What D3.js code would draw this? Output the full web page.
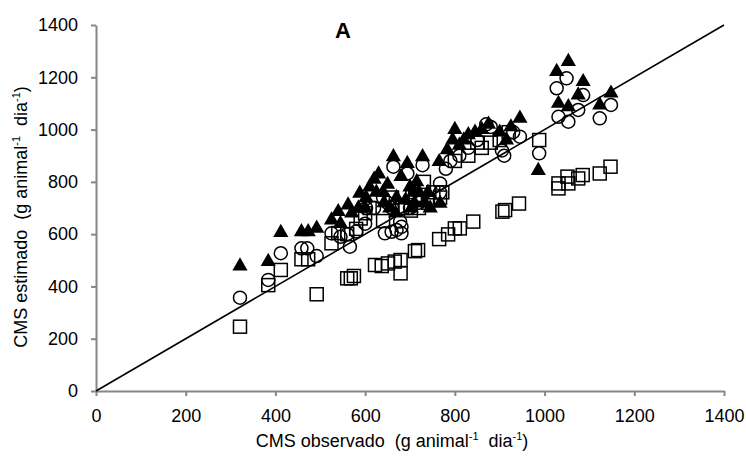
<!DOCTYPE html>
<html>
<head>
<meta charset="utf-8">
<script src="https://cdn.jsdelivr.net/npm/d3@7"></script>
<style>
  body { margin: 0; background: #fff; }
  text { font-family: "Liberation Sans", Arial, sans-serif; white-space: pre; }
</style>
</head>
<body>
<svg id="chart" width="746" height="457"></svg>
<script>
var triX = [321,384,412,458,473,492,525,540,562,588,545,570,600,610,620,630,640,650,663,670,680,694,700,710,715,728,740,765,767,783,795,800,810,820,830,845,860,875,900,915,925,945,986,1027,1031,1053,1053,1075,1086,1123,1148,
            585,602,625,642,655,668,690,703,720,733,745,708];
var triY = [478,495,606,609,609,622,654,686,711,756,640,680,700,780,810,830,760,790,896,740,820,870,780,720,800,896,760,877,718,922,960,1000,940,960,980,990,1000,1020,990,960,1010,1043,843,1222,1100,1260,1087,1132,1183,1094,1139,
            700,740,760,720,700,680,730,700,760,720,700,760];

var cirX = [321,384,412,458,471,492,525,566,545,560,580,600,620,644,659,670,681,681,678,663,694,728,700,720,650,767,767,780,790,810,830,850,870,880,905,910,930,945,988,1027,1031,1049,1053,1075,1086,1123,1148,
            602,640,660,705];
var cirY = [357,425,527,546,546,516,603,552,590,600,610,640,700,603,609,616,628,603,648,858,832,864,700,720,720,794,760,850,880,900,930,960,1020,1010,920,900,990,973,909,1158,1049,1196,1030,1075,1132,1043,1094,
            700,740,700,760];

var sqX = [321,384,412,458,473,492,525,540,560,568,575,560,580,600,622,637,651,666,679,679,690,711,718,720,731,740,765,767,785,800,811,800,830,841,860,880,906,912,920,943,988,1031,1031,1051,1053,1075,1085,1123,1147,
           590,610,640,660,682,702,712,752,772,850,900];
var sqY = [246,405,463,504,504,370,565,604,431,431,440,600,620,680,482,478,488,495,501,450,700,535,539,700,800,720,581,740,599,622,622,880,900,648,930,950,686,692,990,717,960,794,775,820,794,813,826,832,858,
           660,700,650,740,700,690,740,760,760,950,960];

var ticks = [0,200,400,600,800,1000,1200,1400];

var svg = d3.select('#chart');
var plotLeft = 96, plotRight = 724, plotTop = 25, plotBottom = 391;

var x = d3.scaleLinear().domain([0,1400]).range([plotLeft,plotRight]);
var y = d3.scaleLinear().domain([0,1400]).range([plotBottom,plotTop]);

var xAxis = svg.append('g')
  .attr('transform', 'translate(0,' + plotBottom + ')')
  .call(d3.axisBottom(x).tickValues(ticks).tickFormat(d3.format('d')).tickSize(5).tickPadding(13).tickSizeOuter(0));
var yAxis = svg.append('g')
  .attr('transform', 'translate(' + plotLeft + ',0)')
  .call(d3.axisLeft(y).tickValues(ticks).tickFormat(d3.format('d')).tickSize(5).tickPadding(13).tickSizeOuter(0));

[xAxis, yAxis].forEach(function(g) {
  g.select('.domain').attr('stroke', '#868686').attr('stroke-width', 2);
  g.selectAll('.tick line').attr('stroke', '#868686').attr('stroke-width', 2);
  g.selectAll('.tick text').attr('fill', '#000').style('font-size', '18px')
    .style('font-family', '"Liberation Sans", Arial, sans-serif');
});

// 1:1 line
svg.append('line')
  .attr('x1', x(0)).attr('y1', y(0))
  .attr('x2', x(1400)).attr('y2', y(1400))
  .attr('stroke', '#000').attr('stroke-width', 1.6);

var sq = 13;
svg.append('g').selectAll('rect')
  .data(sqX)
  .enter()
  .append('rect')
  .attr('x', function(d) { return x(d) - sq / 2; })
  .attr('y', function(d, i) { return y(sqY[i]) - sq / 2; })
  .attr('width', sq).attr('height', sq)
  .attr('fill', 'none').attr('stroke', '#000').attr('stroke-width', 1.5);

svg.append('g').selectAll('circle')
  .data(cirX)
  .enter()
  .append('circle')
  .attr('cx', function(d) { return x(d); })
  .attr('cy', function(d, i) { return y(cirY[i]); })
  .attr('r', 6.5)
  .attr('fill', 'none').attr('stroke', '#000').attr('stroke-width', 1.5);

var tri = d3.symbol().type(d3.symbolTriangle).size(100);
svg.append('g').selectAll('path')
  .data(triX)
  .enter()
  .append('path')
  .attr('d', tri)
  .attr('transform', function(d, i) { return 'translate(' + x(d) + ',' + y(triY[i]) + ')'; })
  .attr('fill', '#000');

// title and axis labels
svg.append('text')
  .attr('x', 343).attr('y', 38)
  .attr('text-anchor', 'middle')
  .style('font-size', '22px').style('font-weight', 'bold')
  .text('A');

var xl = svg.append('text')
  .attr('x', 392).attr('y', 447)
  .attr('text-anchor', 'middle')
  .style('font-size', '18px');
xl.append('tspan').text('CMS observado  (g animal');
xl.append('tspan').attr('dy', -7).style('font-size', '11px').text('-1');
xl.append('tspan').attr('dy', 7).text('  dia');
xl.append('tspan').attr('dy', -7).style('font-size', '11px').text('-1');
xl.append('tspan').attr('dy', 7).text(')');

var yl = svg.append('text')
  .attr('transform', 'translate(27,217) rotate(-90)')
  .attr('text-anchor', 'middle')
  .style('font-size', '18px');
yl.append('tspan').text('CMS estimado  (g animal');
yl.append('tspan').attr('dy', -7).style('font-size', '11px').text('-1');
yl.append('tspan').attr('dy', 7).text('  dia');
yl.append('tspan').attr('dy', -7).style('font-size', '11px').text('-1');
yl.append('tspan').attr('dy', 7).text(')');
</script>
</body>
</html>
